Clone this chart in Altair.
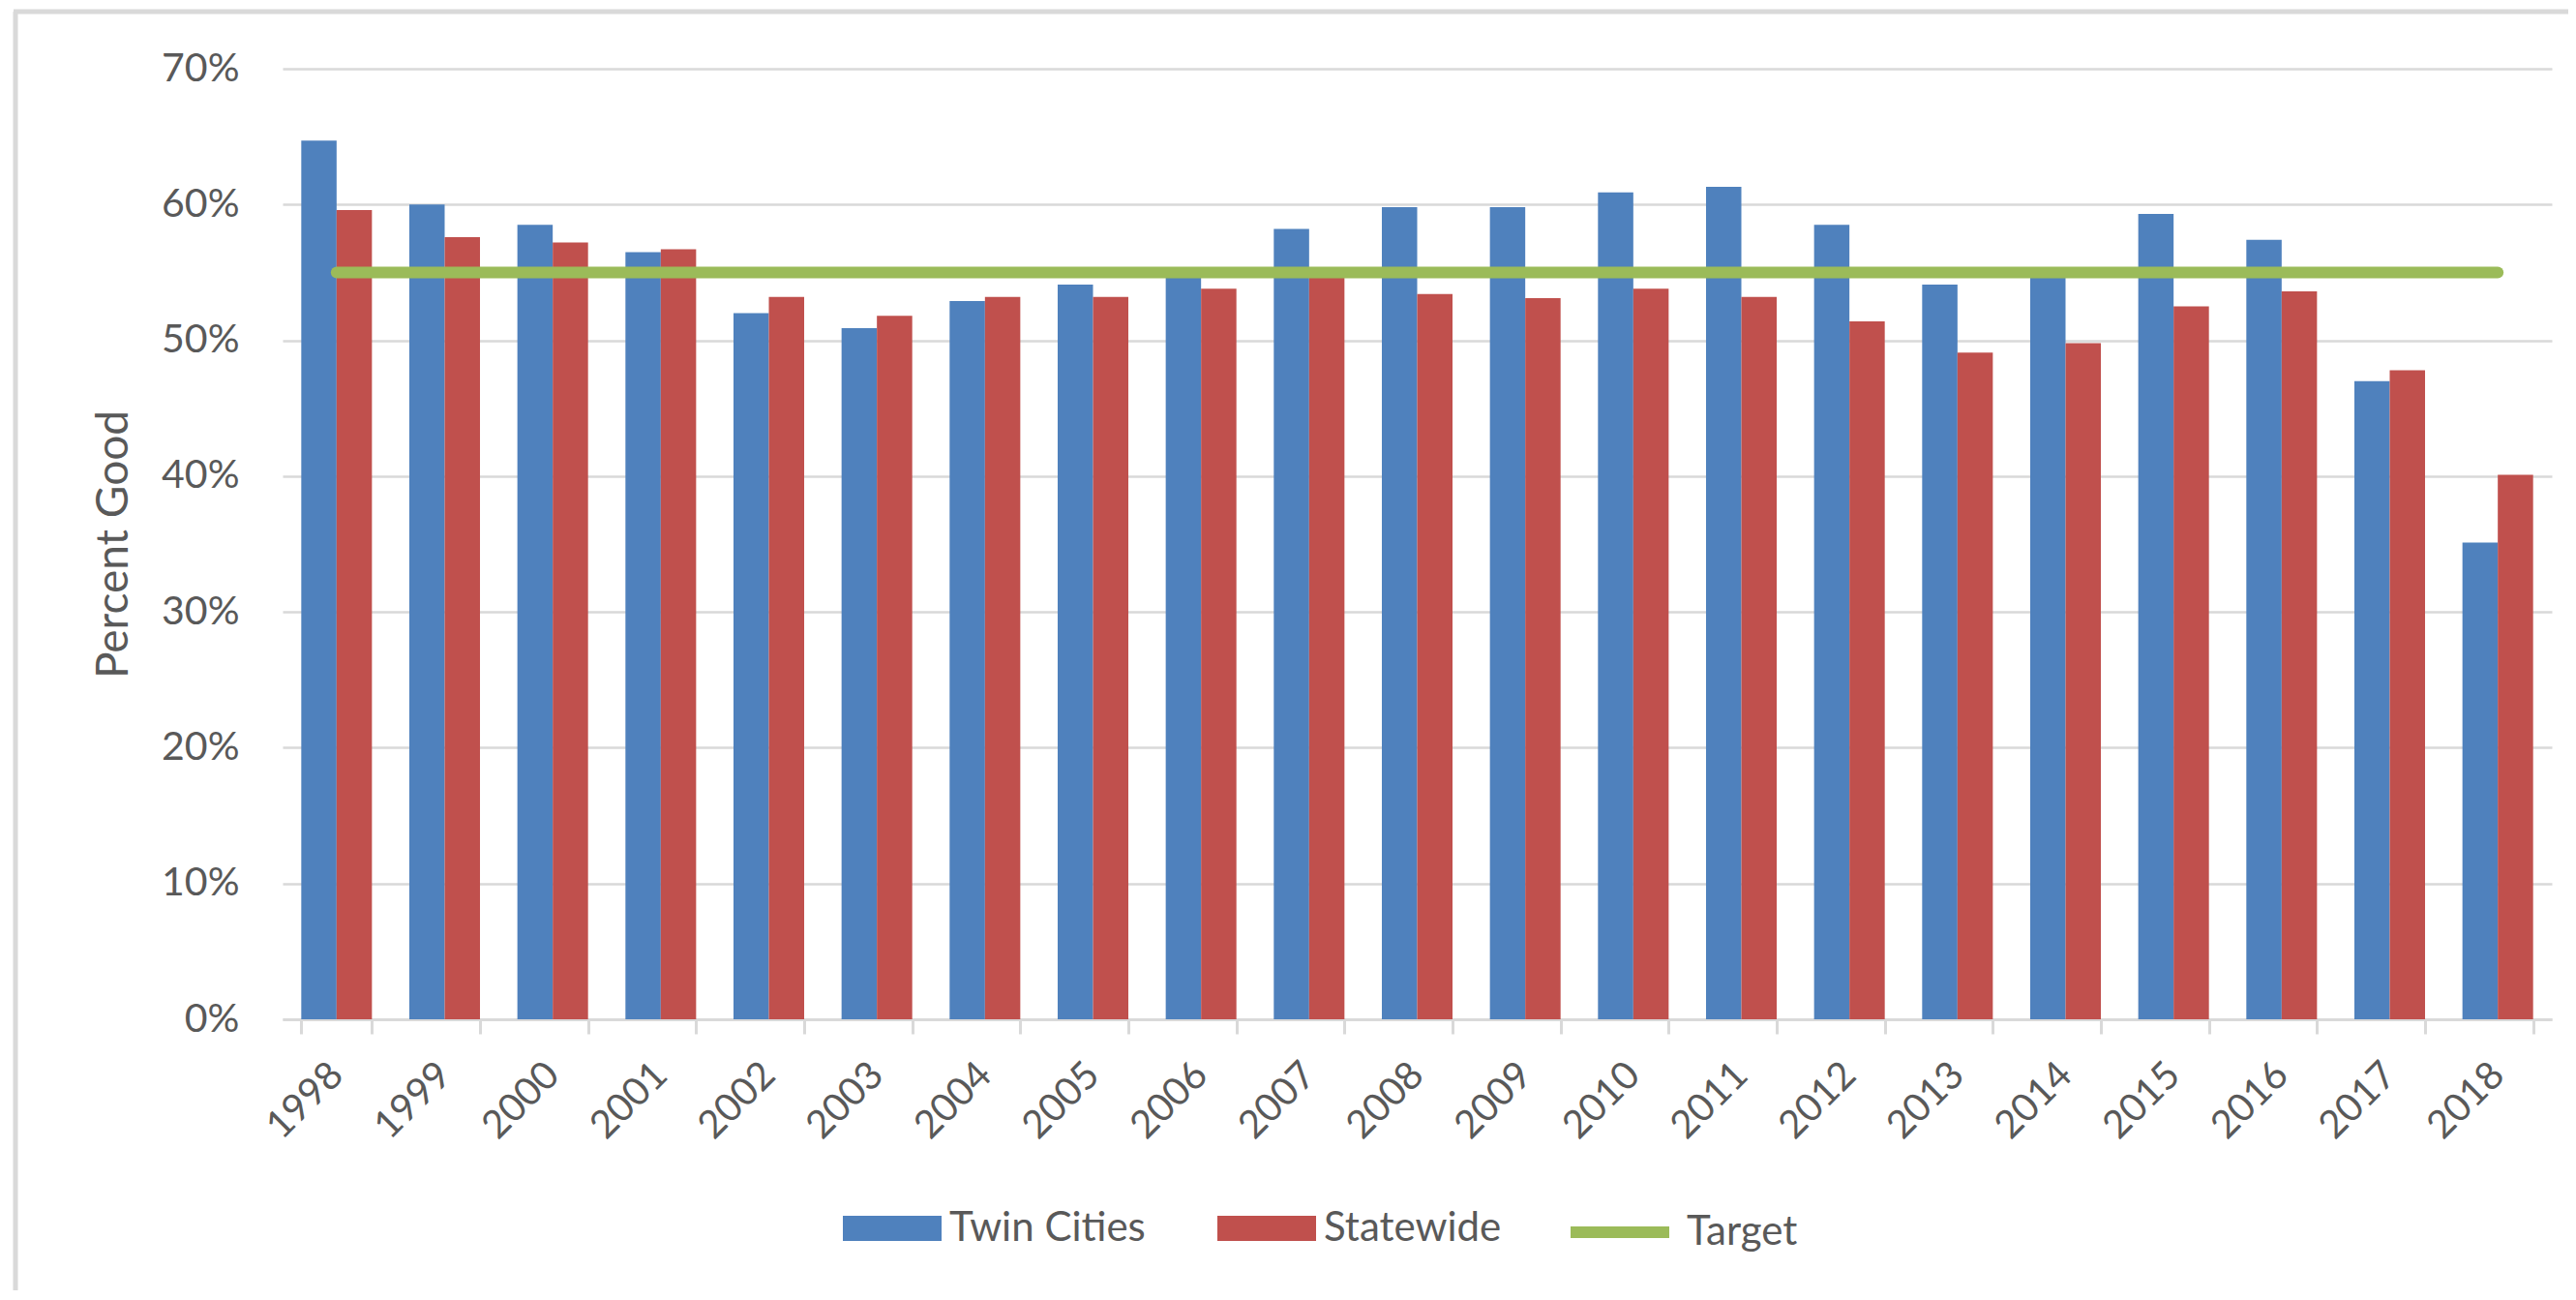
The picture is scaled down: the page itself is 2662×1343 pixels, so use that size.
import altair as alt
import pandas as pd

years = ["1998", "1999", "2000", "2001", "2002", "2003", "2004", "2005", "2006", "2007",
         "2008", "2009", "2010", "2011", "2012", "2013", "2014", "2015", "2016", "2017", "2018"]
twin_cities = [64.7, 60.0, 58.5, 56.5, 52.0, 50.9, 52.9, 54.1, 55.0, 58.2,
               59.8, 59.8, 60.9, 61.3, 58.5, 54.1, 55.0, 59.3, 57.4, 47.0, 35.1]
statewide = [59.6, 57.6, 57.2, 56.7, 53.2, 51.8, 53.2, 53.2, 53.8, 54.9,
             53.4, 53.1, 53.8, 53.2, 51.4, 49.1, 49.8, 52.5, 53.6, 47.8, 40.1]
target = [55, 55, 55, 55, 55, 55, 55, 55, 55, 55,
          55, 55, 55, 55, 55, 55, 55, 55, 55, 55, 55]
y_ticks = [0, 10, 20, 30, 40, 50, 60, 70]
bar_series = ["Twin Cities", "Statewide"]
bar_colors = ["#4F81BD", "#C0504D"]
line_series = ["Target"]
line_colors = ["#9BBB59"]

FONT = "Lato"
TEXT = "#595959"
GRID = "#d9d9d9"

bars_df = pd.DataFrame({
    "year": years * 2,
    "series": ["Twin Cities"] * len(years) + ["Statewide"] * len(years),
    "value": twin_cities + statewide,
})
line_df = pd.DataFrame({"year": years, "series": ["Target"] * len(years), "value": target})

x_enc = alt.X(
    "year:N", sort=years,
    scale=alt.Scale(paddingInner=0.346, paddingOuter=0.173),
    axis=alt.Axis(
        title=None, labelAngle=-45, labelAlign="right", labelBaseline="middle",
        labelFont=FONT, labelFontSize=40, labelColor=TEXT, labelPadding=36,
        tickBand="extent", tickSize=15, tickColor=GRID, tickWidth=3,
        domainColor=GRID, domainWidth=3, grid=False,
    ),
)
y_enc = alt.Y(
    "value:Q",
    scale=alt.Scale(domain=[0, 70], nice=False),
    axis=alt.Axis(
        values=y_ticks, labelExpr="datum.value + '%'",
        title="Percent Good", titleFont=FONT, titleFontSize=46, titleColor=TEXT,
        titleFontWeight="normal", titleAngle=270, titleAlign="center",
        titleBaseline="middle", titleX=-175, titleY=491,
        labelFont=FONT, labelFontSize=41, labelColor=TEXT, labelPadding=45,
        domain=False, ticks=False, grid=True, gridColor=GRID, gridWidth=2.5,
    ),
)

bars = alt.Chart(bars_df).mark_bar().encode(
    x=x_enc,
    xOffset=alt.XOffset("series:N", sort=bar_series,
                        scale=alt.Scale(paddingInner=0, paddingOuter=0)),
    y=y_enc,
    fill=alt.Fill(
        "series:N",
        scale=alt.Scale(domain=bar_series, range=bar_colors),
        legend=alt.Legend(
            title=None, orient="none", legendX=579, legendY=1147,
            direction="horizontal", symbolType="M-1,-0.255H1V0.255H-1Z",
            symbolSize=10404, symbolStrokeWidth=0, symbolOpacity=1,
            labelFont=FONT, labelFontSize=42, labelColor=TEXT, labelLimit=600,
            labelOffset=8, columnPadding=74,
        ),
    ),
)

line = alt.Chart(line_df).mark_line(strokeWidth=12, strokeCap="round").encode(
    x=alt.X("year:N", sort=years),
    y=alt.Y("value:Q"),
    stroke=alt.Stroke(
        "series:N",
        scale=alt.Scale(domain=line_series, range=line_colors),
        legend=alt.Legend(
            title=None, orient="none", legendX=1325, legendY=1145,
            direction="horizontal", symbolType="stroke",
            symbolSize=10404, symbolStrokeWidth=12,
            labelFont=FONT, labelFontSize=42, labelColor=TEXT, labelLimit=600,
            labelOffset=12,
        ),
    ),
)

frame = alt.Data(values=[{"k": 1}])
border_left = alt.Chart(frame).mark_rule(color=GRID, strokeWidth=5).encode(
    x=alt.value(-276), y=alt.value(-59), y2=alt.value(1300)
)
border_top = alt.Chart(frame).mark_rule(color=GRID, strokeWidth=5).encode(
    x=alt.value(-278), x2=alt.value(2380), y=alt.value(-59)
)

chart = alt.layer(border_left, border_top, bars, line).properties(
    width=2345, height=982,
    autosize=alt.AutoSizeParams(type="none"),
    padding={"left": 284, "top": 63, "right": 17, "bottom": 280},
    background="white",
).configure_view(stroke=None)

chart.save("out.html", embed_options={"renderer": "svg", "actions": False})
